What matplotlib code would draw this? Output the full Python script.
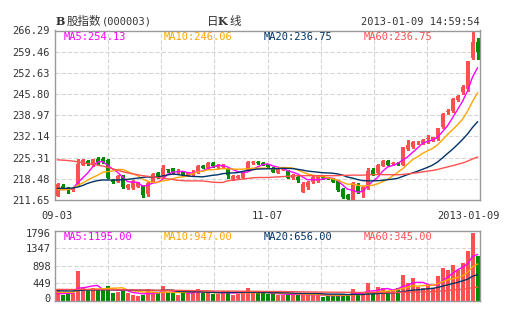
import numpy as np
import matplotlib
matplotlib.use("Agg")
import matplotlib.pyplot as plt
import matplotlib.transforms as mtransforms

# ---- daily data, 2012-09-03 .. 2013-01-09 (85 sessions) ----
tick_idx = [0, 42, 84]
tick_labels = ["09-03", "11-07", "2013-01-09"]

opens = [213.0, 216.3, 215.6, 214.9, 216.8, 223.0, 224.2, 223.0, 224.9, 224.8,
         224.6, 218.1, 217.6, 219.5, 215.4, 215.5, 216.0, 216.2, 213.5, 217.6,
         220.3, 219.4, 221.7, 221.9, 220.7, 220.8, 219.7, 220.1, 220.8, 222.7,
         221.9, 223.5, 222.3, 222.4, 221.7, 218.4, 218.6, 218.9, 221.1, 223.6,
         223.8, 223.7, 223.2, 222.1, 220.5, 221.4, 221.1, 218.7, 219.2, 214.3,
         216.0, 217.6, 217.9, 219.3, 218.9, 218.7, 217.8, 215.2, 213.3, 211.7,
         216.2, 214.3, 215.4, 221.4, 220.5, 222.7, 224.3, 223.2, 223.4, 223.0,
         228.1, 228.7, 230.2, 230.0, 231.2, 230.8, 231.3, 235.2, 240.0, 240.2,
         243.8, 246.4, 247.5, 257.3, 262.7]
highs = [217.2, 216.8, 216.0, 215.6, 225.0, 225.0, 224.4, 225.0, 225.5, 225.4,
         224.8, 218.5, 219.7, 219.7, 216.8, 218.0, 217.6, 216.5, 217.4, 220.4,
         220.7, 222.9, 221.8, 222.1, 221.5, 221.0, 220.6, 221.2, 223.0, 223.0,
         224.0, 223.8, 223.2, 223.1, 221.9, 219.8, 219.6, 221.0, 224.1, 224.1,
         224.2, 223.9, 223.4, 222.3, 221.9, 222.2, 221.3, 219.9, 219.4, 217.3,
         217.9, 219.4, 219.6, 219.5, 219.2, 218.9, 218.0, 215.4, 213.5, 217.4,
         217.0, 216.3, 221.9, 222.0, 223.3, 224.5, 224.5, 223.8, 223.8, 228.8,
         231.0, 230.6, 230.8, 231.3, 232.7, 232.0, 235.0, 239.8, 241.0, 244.5,
         245.4, 248.8, 256.5, 266.29, 264.0]
lows = [212.8, 215.2, 214.0, 214.6, 216.5, 222.8, 222.8, 222.6, 223.3, 223.5,
        218.7, 217.0, 217.4, 215.5, 215.2, 215.3, 215.8, 212.7, 212.9, 217.3,
        218.6, 219.2, 220.8, 220.3, 220.2, 219.3, 219.4, 219.5, 220.5, 221.9,
        221.7, 222.3, 222.0, 222.1, 218.8, 218.2, 218.4, 218.7, 221.0, 223.4,
        223.3, 222.8, 222.0, 220.6, 220.3, 221.2, 218.7, 218.5, 217.6, 214.1,
        215.3, 217.0, 217.6, 218.5, 218.3, 217.3, 214.7, 212.4, 211.7, 211.7,
        214.0, 212.7, 215.1, 219.8, 220.3, 222.5, 222.8, 222.9, 222.8, 222.8,
        227.8, 228.4, 229.8, 229.7, 230.0, 230.6, 231.1, 235.0, 239.5, 240.0,
        243.6, 245.7, 246.8, 257.0, 257.0]
closes = [216.7, 215.5, 214.8, 215.3, 223.3, 224.7, 223.3, 224.8, 223.6, 223.8,
          218.9, 217.3, 219.5, 215.8, 216.5, 217.8, 217.2, 213.3, 217.0, 220.1,
          218.9, 222.1, 221.4, 220.5, 220.9, 219.6, 220.2, 220.4, 222.7, 222.1,
          223.7, 222.5, 222.8, 222.9, 219.7, 219.5, 219.3, 220.8, 224.0, 223.8,
          223.6, 223.0, 222.2, 220.8, 221.7, 222.0, 218.9, 219.7, 218.1, 216.7,
          217.6, 219.0, 219.4, 218.9, 218.6, 217.6, 214.9, 212.7, 211.9, 217.0,
          214.3, 216.0, 221.0, 220.1, 223.0, 224.3, 223.0, 223.4, 223.2, 228.6,
          229.4, 230.3, 230.4, 231.0, 231.4, 231.8, 234.8, 239.5, 240.3, 244.2,
          245.1, 248.1, 256.3, 262.6, 259.2]
volumes = [300, 140, 180, 200, 760, 340, 250, 320, 260, 265,
           375, 200, 225, 270, 200, 140, 120, 130, 290, 220,
           180, 375, 215, 215, 150, 180, 190, 260, 290, 190,
           180, 160, 175, 250, 240, 140, 160, 180, 330, 190,
           190, 190, 170, 180, 150, 150, 165, 145, 160, 145,
           145, 145, 155, 90, 110, 125, 150, 155, 125, 285,
           150, 160, 450, 195, 345, 310, 235, 270, 320, 660,
           440, 570, 340, 320, 420, 310, 630, 830, 790, 900,
           780, 970, 1260, 1740, 1150]

# moving-average values carried over from sessions before 09-03
ma5_head = [215.0, 215.0, 215.1, 215.3]
ma10_head = [215.0, 215.0, 215.0, 215.4, 216.3, 217.1, 218.0, 218.9, 219.6]
ma20_head = [215.4, 215.4, 215.4, 215.5, 215.8, 216.3, 217.0, 217.5, 217.9, 218.1,
             218.1, 218.1, 218.1, 218.2, 218.3, 218.5, 218.7, 218.9, 219.1]
ma60_head = [224.6, 224.5, 224.4, 224.2, 224.0, 223.7, 223.4, 223.2, 222.9, 222.6,
             222.2, 221.7, 221.3, 220.8, 220.4, 220.1, 219.8, 219.5, 219.3, 219.1,
             218.9, 218.7, 218.5, 218.3, 218.0, 217.9, 217.8, 217.8, 217.8, 217.8,
             217.6, 217.4, 217.3, 217.3, 217.8, 218.1, 218.2, 218.4, 218.6, 218.8,
             218.9, 218.9, 218.9, 219.0, 219.1, 219.2, 219.3, 219.4, 219.5, 219.5,
             219.5, 219.5, 219.5, 219.5, 219.5, 219.5, 219.5, 219.6, 219.6]
vma5_head = [180, 175, 180, 190]
vma10_head = [215, 210, 210, 210, 250, 270, 280, 290, 295]
vma20_head = [250, 248, 246, 246, 256, 262, 266, 268, 270, 272,
              274, 273, 272, 270, 268, 266, 264, 262, 260]
vma60_head = [285, 284, 283, 283, 284, 284, 283, 282, 281, 280,
              279, 278, 276, 275, 273, 271, 269, 268, 267, 266,
              264, 263, 262, 261, 260, 258, 256, 254, 252, 250,
              248, 246, 244, 242, 241, 240, 239, 238, 237, 236,
              235, 234, 233, 232, 231, 230, 228, 226, 224, 222,
              220, 218, 216, 215, 214, 213, 212, 211, 210]

price_ma_labels = ["MA5:254.13", "MA10:246.06", "MA20:236.75", "MA60:236.75"]
vol_ma_labels = ["MA5:1195.00", "MA10:947.00", "MA20:656.00", "MA60:345.00"]

price_ticks = [211.65, 218.48, 225.31, 232.14, 238.97, 245.80, 252.63, 259.46, 266.29]
vol_ticks = [0, 449, 898, 1347, 1796]


def moving_average(values, n, head):
    v = np.asarray(values, float)
    out = np.empty_like(v)
    out[:n - 1] = head
    c = np.cumsum(np.insert(v, 0, 0.0))
    out[n - 1:] = (c[n:] - c[:-n]) / n
    return out


RED = "#ff5050"
GREEN = "#008c00"
MA_COLORS = ["#ff00ff", "#ffa500", "#003366", "#ff5050"]
GRID = "#d4d4d4"
SPINE = "#999999"
TXT = "#333333"
MONO = "DejaVu Sans Mono"
CJK = "Noto Sans CJK SC"

o = np.array(opens); h = np.array(highs); l = np.array(lows); c = np.array(closes)
v = np.array(volumes, float)
x = np.arange(len(c))
up = c >= o
colors = np.where(up, RED, GREEN)

W, H = 505, 330
fig = plt.figure(figsize=(W / 100, H / 100), dpi=100)
fig.patch.set_facecolor("white")


def rect(left, top, right, bottom):
    return [left / W, 1 - bottom / H, (right - left) / W, (bottom - top) / H]


def shift(label, dx_px, dy_px):
    label.set_transform(label.get_transform() +
                        mtransforms.ScaledTranslation(dx_px / 100, dy_px / 100,
                                                      fig.dpi_scale_trans))


ax = fig.add_axes(rect(55, 30.5, 480, 200))
axv = fig.add_axes(rect(55, 230.5, 480, 300.5))

n = len(c)
xmin, xmax = -0.5, n - 0.5
vgrid = [xmin + (xmax - xmin) * k / 8 for k in range(1, 8)]

for a in (ax, axv):
    a.set_xlim(xmin, xmax)
    for gx in vgrid:
        a.axvline(gx, color=GRID, lw=0.75, ls=(0, (4, 2)), zorder=0)
    for s in a.spines.values():
        s.set_color(SPINE)
        s.set_linewidth(1.0)
    a.tick_params(length=0, labelsize=7.5, colors=TXT)

# ---- price panel ----
ax.set_ylim(price_ticks[0], price_ticks[-1])
for gy in price_ticks[1:-1]:
    ax.axhline(gy, color=GRID, lw=0.75, ls=(0, (4, 2)), zorder=0)
ax.set_yticks(price_ticks)
ax.set_yticklabels([f"{t:.2f}" for t in price_ticks], family=MONO)
ax.tick_params(axis="y", pad=4)

ax.vlines(x, l, h, colors=colors, lw=0.8, zorder=2, antialiased=False)
body_bottom = np.minimum(o, c)
body_h = np.maximum(np.abs(c - o), 0.3)
ax.bar(x, body_h, bottom=body_bottom, width=0.8, color=colors, lw=0,
       zorder=3, antialiased=False)

price_mas = [moving_average(c, 5, ma5_head), moving_average(c, 10, ma10_head),
             moving_average(c, 20, ma20_head), moving_average(c, 60, ma60_head)]
for m, col in zip(price_mas, MA_COLORS):
    ax.plot(x, m, color=col, lw=1.0, zorder=4)

ax.set_xticks(tick_idx)
ax.set_xticklabels(tick_labels, family=MONO)
ax.tick_params(axis="x", pad=8.0)
shift(ax.get_xticklabels()[-1], -8.5, 0)

# ---- volume panel ----
axv.set_ylim(vol_ticks[0], vol_ticks[-1])
for gy in vol_ticks[1:-1]:
    axv.axhline(gy, color=GRID, lw=0.75, ls=(0, (4, 2)), zorder=0)
axv.set_yticks(vol_ticks)
axv.set_yticklabels([str(t) for t in vol_ticks], family=MONO)
axv.tick_params(axis="y", pad=3)
vlabels = axv.get_yticklabels()
shift(vlabels[0], 0, 3)
shift(vlabels[-1], 0, -2.5)
axv.set_xticks([])
axv.bar(x, v, width=0.8, color=colors, lw=0, zorder=2, antialiased=False)
vol_mas = [moving_average(v, 5, vma5_head), moving_average(v, 10, vma10_head),
           moving_average(v, 20, vma20_head), moving_average(v, 60, vma60_head)]
for m, col in zip(vol_mas, MA_COLORS):
    axv.plot(x, m, color=col, lw=1.0, zorder=3)

# ---- header texts ----
def ftext(px, py, s, **kw):
    fig.text(px / W, 1 - py / H, s, va="center", **kw)


ftext(55.5, 21.5, "B", family="DejaVu Serif", weight="bold", size=8, color=TXT)
ftext(66.5, 21.5, "股指数", family=CJK, size=8.3, color=TXT)
ftext(102, 21.5, "(000003)", family=MONO, size=7.5, color=TXT)
ftext(207, 21.5, "日", family=CJK, size=8.3, color=TXT)
ftext(217.5, 21.5, "K", family="DejaVu Serif", weight="bold", size=8, color=TXT)
ftext(229, 21.5, "线", family=CJK, size=8.3, color=TXT)
ftext(479.5, 22, "2013-01-09 14:59:54", family=MONO, size=7.5, color=TXT, ha="right")

for k, (lab, col) in enumerate(zip(price_ma_labels, MA_COLORS)):
    ftext(64 + 100 * k, 36.5, lab, family=MONO, size=7.5, color=col)
for k, (lab, col) in enumerate(zip(vol_ma_labels, MA_COLORS)):
    ftext(64 + 100 * k, 237, lab, family=MONO, size=7.5, color=col)

fig.savefig("out.png", dpi=100, facecolor="white")
